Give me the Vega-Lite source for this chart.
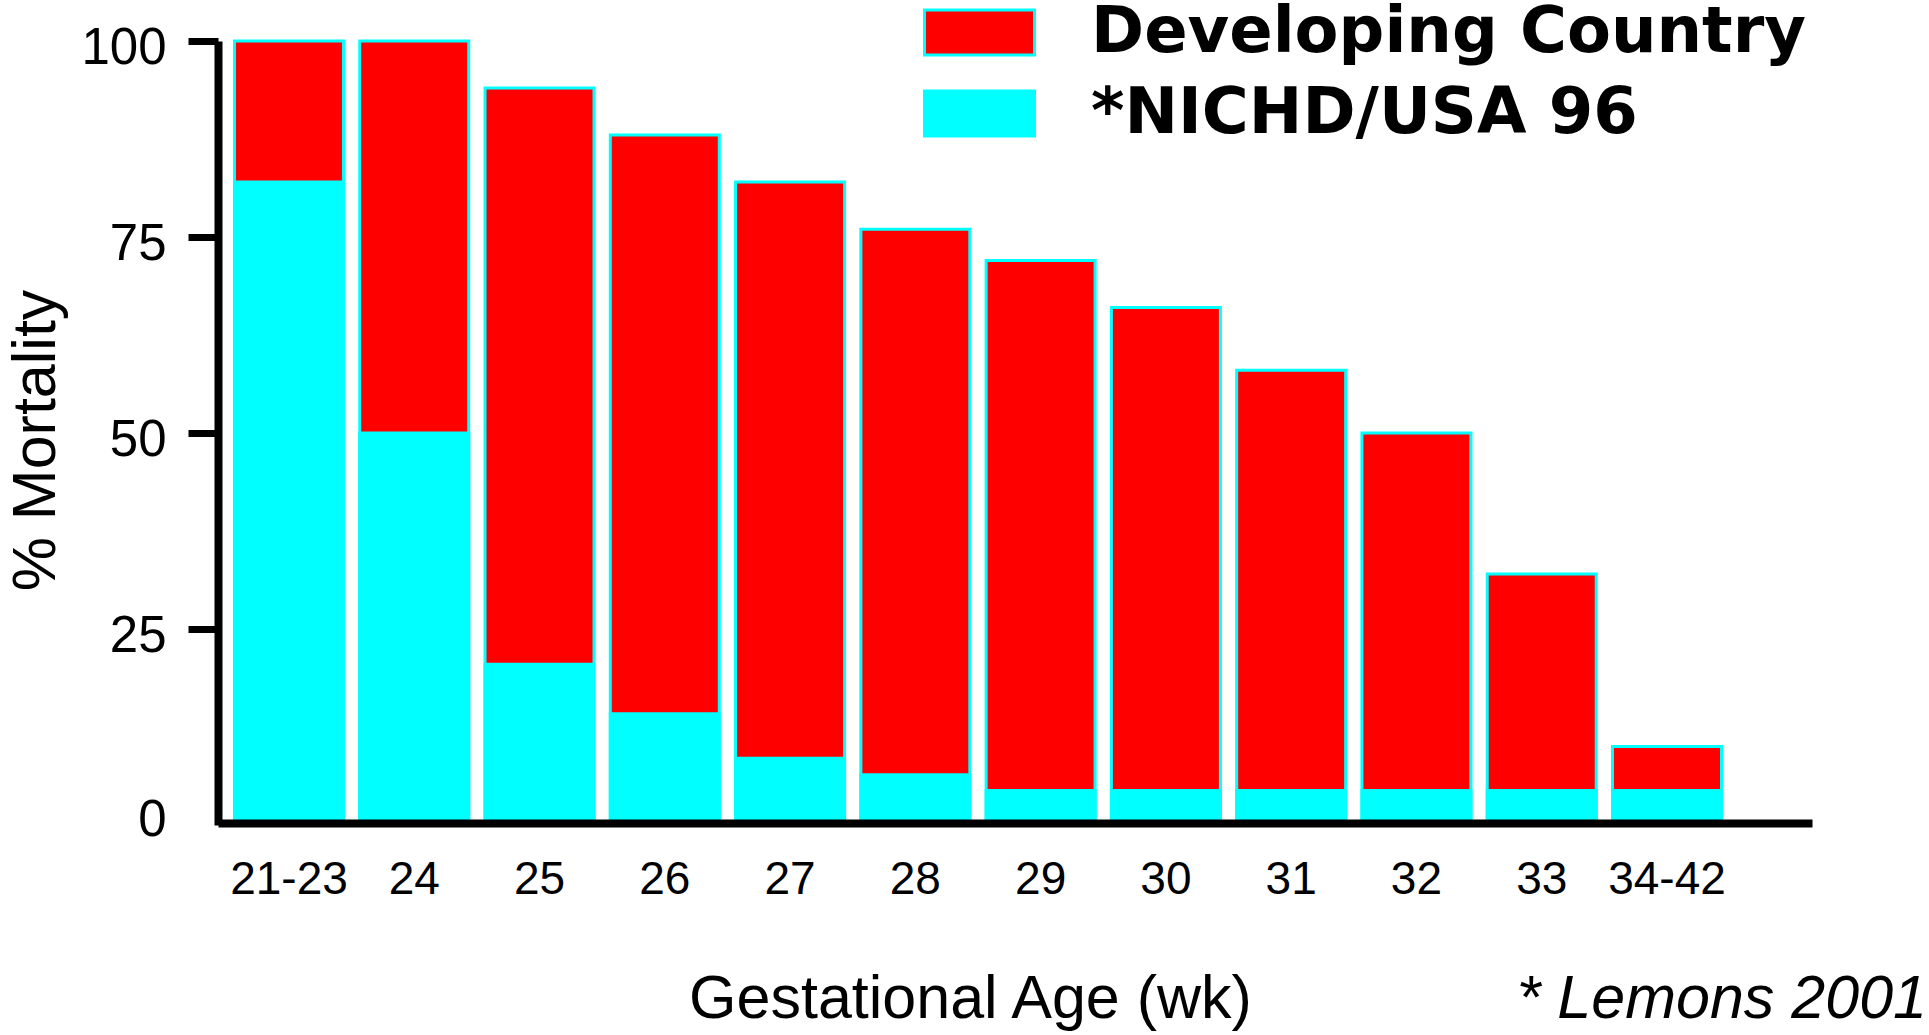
{
  "$schema": "https://vega.github.io/schema/vega-lite/v6.json",
  "width": 1594,
  "height": 784,
  "autosize": {"type": "none"},
  "padding": {"left": 218, "top": 41, "right": 117, "bottom": 210},
  "background": "white",
  "config": {"view": {"stroke": null}},
  "title": {
    "text": "* Lemons 2001",
    "orient": "bottom",
    "anchor": "end",
    "frame": "group",
    "font": "Liberation Sans",
    "fontSize": 61,
    "fontStyle": "italic",
    "fontWeight": "normal",
    "color": "black",
    "baseline": "alphabetic",
    "offset": -11,
    "dx": 115
  },
  "data": {
    "values": [
      {"age": "21-23", "series": "Developing Country", "mortality": 100},
      {"age": "24", "series": "Developing Country", "mortality": 100},
      {"age": "25", "series": "Developing Country", "mortality": 94},
      {"age": "26", "series": "Developing Country", "mortality": 88},
      {"age": "27", "series": "Developing Country", "mortality": 82},
      {"age": "28", "series": "Developing Country", "mortality": 76},
      {"age": "29", "series": "Developing Country", "mortality": 72},
      {"age": "30", "series": "Developing Country", "mortality": 66},
      {"age": "31", "series": "Developing Country", "mortality": 58},
      {"age": "32", "series": "Developing Country", "mortality": 50},
      {"age": "33", "series": "Developing Country", "mortality": 32},
      {"age": "34-42", "series": "Developing Country", "mortality": 10},
      {"age": "21-23", "series": "*NICHD/USA 96", "mortality": 82},
      {"age": "24", "series": "*NICHD/USA 96", "mortality": 50},
      {"age": "25", "series": "*NICHD/USA 96", "mortality": 20.5},
      {"age": "26", "series": "*NICHD/USA 96", "mortality": 14.2},
      {"age": "27", "series": "*NICHD/USA 96", "mortality": 8.5},
      {"age": "28", "series": "*NICHD/USA 96", "mortality": 6.4},
      {"age": "29", "series": "*NICHD/USA 96", "mortality": 4.4},
      {"age": "30", "series": "*NICHD/USA 96", "mortality": 4.4},
      {"age": "31", "series": "*NICHD/USA 96", "mortality": 4.4},
      {"age": "32", "series": "*NICHD/USA 96", "mortality": 4.4},
      {"age": "33", "series": "*NICHD/USA 96", "mortality": 4.4},
      {"age": "34-42", "series": "*NICHD/USA 96", "mortality": 4.4}
    ]
  },
  "mark": {"type": "bar", "stroke": "#00FFFF", "strokeWidth": 3},
  "encoding": {
    "x": {
      "field": "age",
      "type": "nominal",
      "sort": null,
      "scale": {"paddingInner": 0.13, "paddingOuter": 0.427, "align": 0.154},
      "axis": {
        "title": "Gestational Age (wk)",
        "labelAngle": 0,
        "ticks": false,
        "tickSize": 0,
        "domainColor": "black",
        "domainWidth": 8,
        "labelFont": "Liberation Sans",
        "labelFontSize": 46,
        "labelColor": "black",
        "labelPadding": 70,
        "labelBaseline": "alphabetic",
        "offset": -2,
        "zindex": 1,
        "titleFont": "Liberation Sans",
        "titleFontSize": 61,
        "titleFontWeight": "normal",
        "titleColor": "black",
        "titleX": 752,
        "titleY": 194,
        "titleBaseline": "alphabetic",
        "titleAlign": "center"
      }
    },
    "y": {
      "field": "mortality",
      "type": "quantitative",
      "stack": null,
      "scale": {"domain": [0, 100], "nice": false},
      "axis": {
        "title": "% Mortality",
        "values": [0, 25, 50, 75, 100],
        "grid": false,
        "tickSize": 30,
        "tickWidth": 7,
        "tickColor": "black",
        "tickOpacity": {"condition": {"test": "datum.value === 0", "value": 0}, "value": 1},
        "domainColor": "black",
        "domainWidth": 8,
        "labelFont": "Liberation Sans",
        "labelFontSize": 51,
        "labelColor": "black",
        "labelPadding": 22,
        "labelBaseline": "alphabetic",
        "labelOffset": {"condition": {"test": "datum.value === 0", "value": 10}, "value": 22},
        "zindex": 1,
        "titleFont": "Liberation Sans",
        "titleFontSize": 61,
        "titleFontWeight": "normal",
        "titleColor": "black",
        "titleX": -164,
        "titleY": 399,
        "titleBaseline": "alphabetic",
        "titleAlign": "center",
        "titleAngle": -90
      }
    },
    "color": {
      "field": "series",
      "type": "nominal",
      "scale": {"domain": ["Developing Country", "*NICHD/USA 96"], "range": ["#FF0000", "#00FFFF"]},
      "legend": {
        "orient": "none",
        "legendX": 705,
        "legendY": -48,
        "title": null,
        "direction": "vertical",
        "symbolType": "M-1,-0.409H1V0.409H-1Z",
        "symbolSize": 12100,
        "symbolStrokeColor": "#00FFFF",
        "symbolStrokeWidth": 3,
        "symbolOpacity": 1,
        "labelFont": "DejaVu Sans",
        "labelFontWeight": "bold",
        "labelFontSize": 64,
        "labelColor": "black",
        "labelOffset": 55,
        "labelLimit": 0,
        "clipHeight": 79,
        "rowPadding": 2,
        "padding": 0
      }
    }
  }
}
